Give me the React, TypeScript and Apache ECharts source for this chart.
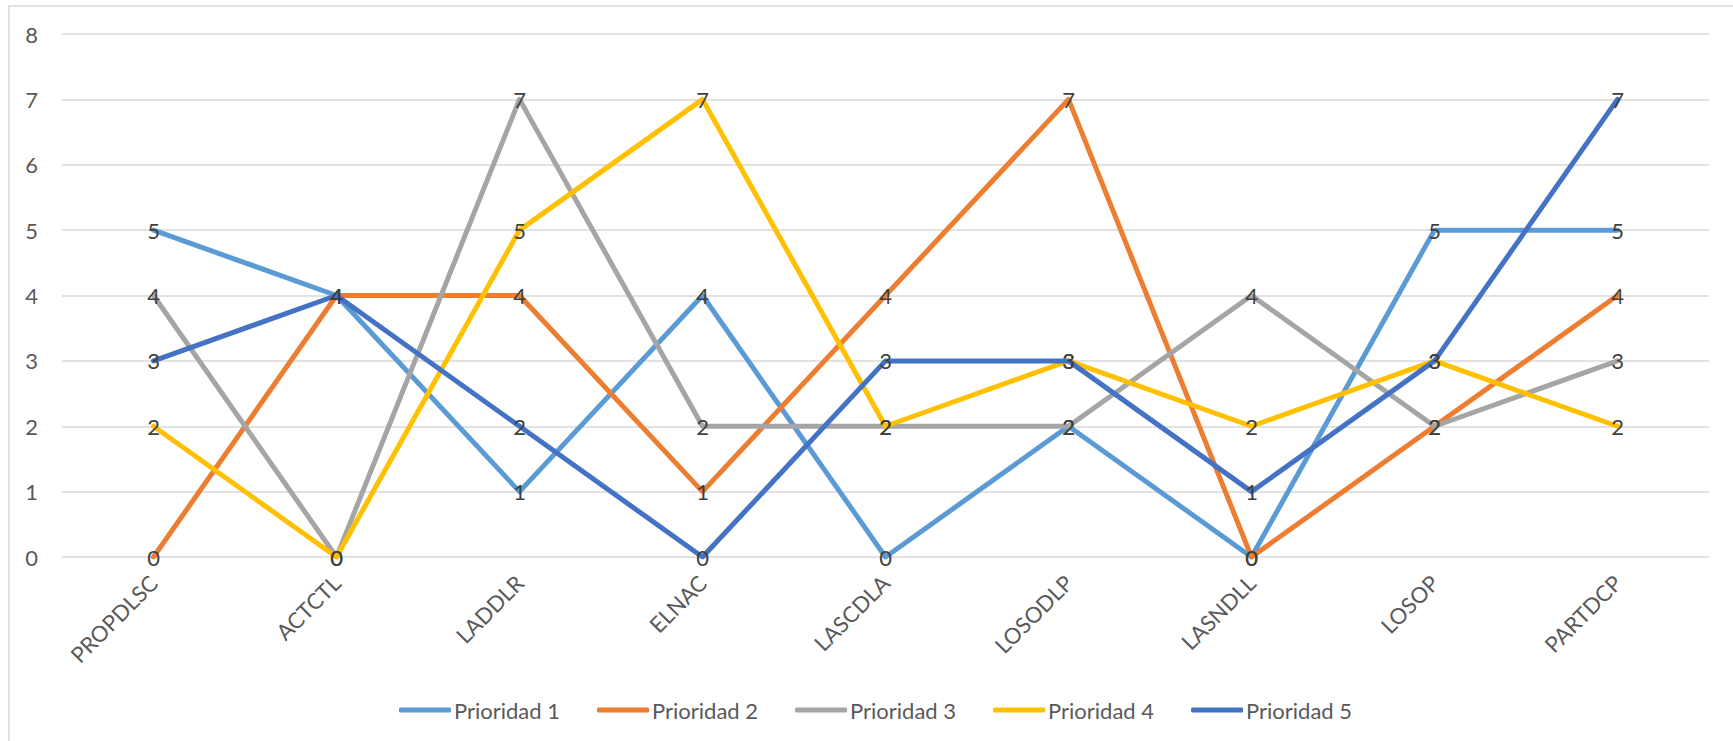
import React, { useEffect, useRef } from "react";
import * as echarts from "echarts";

const categories = ["PROPDLSC", "ACTCTL", "LADDLR", "ELNAC", "LASCDLA", "LOSODLP", "LASNDLL", "LOSOP", "PARTDCP"];
const seriesNames = ["Prioridad 1", "Prioridad 2", "Prioridad 3", "Prioridad 4", "Prioridad 5"];
const prioridad1 = [5, 4, 1, 4, 0, 2, 0, 5, 5];
const prioridad2 = [0, 4, 4, 1, 4, 7, 0, 2, 4];
const prioridad3 = [4, 0, 7, 2, 2, 2, 4, 2, 3];
const prioridad4 = [2, 0, 5, 7, 2, 3, 2, 3, 2];
const prioridad5 = [3, 4, 2, 0, 3, 3, 1, 3, 7];
const seriesData = [prioridad1, prioridad2, prioridad3, prioridad4, prioridad5];
const colors = ["#5B9BD5", "#ED7D31", "#A5A5A5", "#FFC000", "#4472C4"];
const yTicks = { min: 0, max: 8, interval: 1 };

const FONT = "Lato, 'Open Sans', sans-serif";

export default function App() {
  const ref = useRef<HTMLDivElement>(null);
  useEffect(() => {
    document.body.style.margin = "0";
    const chart = echarts.init(ref.current!, null, { renderer: "svg" });
    chart.setOption({
      animation: false,
      backgroundColor: "#ffffff",
      textStyle: { fontFamily: FONT },
      color: colors,
      graphic: [
        {
          type: "rect",
          shape: { x: 9, y: 6, width: 2000, height: 2000 },
          style: { fill: "none", stroke: "#d9d9d9", lineWidth: 1.5 },
          silent: true,
          z: -1,
        },
      ],
      grid: { left: 62, right: 24, top: 34, bottom: 184, containLabel: false },
      legend: {
        data: seriesNames.map((n, i) => ({ name: n, itemStyle: { color: colors[i], opacity: 1 } })),
        left: 394,
        top: 694,
        icon: "roundRect",
        itemWidth: 52,
        itemHeight: 5,
        itemGap: 37,
        textStyle: { color: "#595959", fontSize: 22, fontFamily: FONT, padding: [0, 0, 0, -2] },
      },
      xAxis: {
        type: "category",
        data: categories,
        boundaryGap: true,
        axisLine: { show: false },
        axisTick: { show: false },
        axisLabel: { rotate: 45, color: "#595959", fontSize: 22, fontFamily: FONT, margin: 22, interval: 0 },
        splitLine: { show: false },
      },
      yAxis: {
        type: "value",
        min: yTicks.min,
        max: yTicks.max,
        interval: yTicks.interval,
        axisLine: { show: false },
        axisTick: { show: false },
        axisLabel: { color: "#595959", fontSize: 22, fontFamily: FONT, margin: 24 },
        splitLine: { lineStyle: { color: "#d9d9d9", width: 1.5 } },
      },
      series: seriesNames.map((name, i) => ({
        name,
        type: "line",
        data: seriesData[i],
        symbol: "circle",
        symbolSize: 1,
        showSymbol: true,
        itemStyle: { color: "rgba(0,0,0,0)" },
        lineStyle: { color: colors[i], width: 5, cap: "round", join: "round" },
        label: {
          show: true,
          position: "inside",
          color: "#404040",
          fontSize: 22,
          fontFamily: FONT,
        },
        emphasis: { disabled: true },
      })),
    });
    return () => chart.dispose();
  }, []);
  return <div ref={ref} style={{ width: 1733, height: 741 }} />;
}
